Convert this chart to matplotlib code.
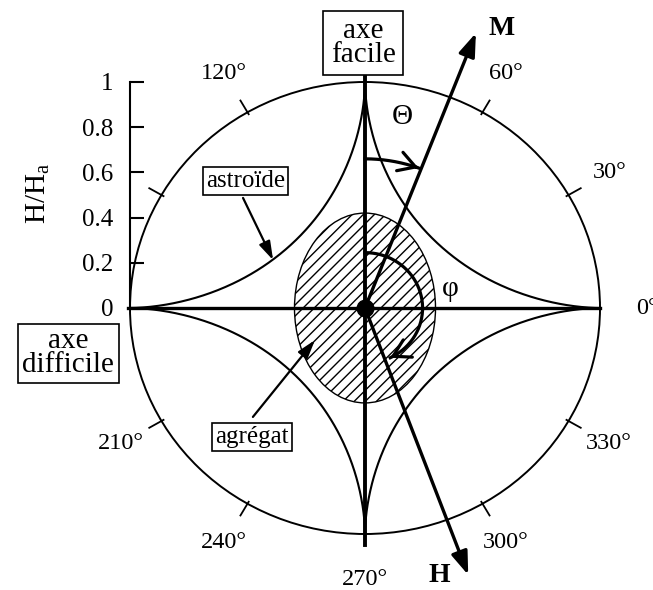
import numpy as np
import matplotlib
matplotlib.use('Agg')
import matplotlib.pyplot as plt
from matplotlib.patches import Ellipse

plt.rcParams['font.family'] = ['Liberation Serif', 'DejaVu Serif']
plt.rcParams['mathtext.fontset'] = 'custom'
plt.rcParams['mathtext.rm'] = 'Liberation Serif'
plt.rcParams['mathtext.it'] = 'Liberation Serif:italic'

# values
angle_label_deg = [0, 30, 60, 120, 210, 240, 270, 300, 330]
angle_labels = ['0°', '30°', '60°', '120°', '210°', '240°', '270°', '300°', '330°']
angle_tick_deg = [30, 60, 120, 150, 210, 240, 300, 330]
ha_ticks = [0, 0.2, 0.4, 0.6, 0.8, 1]
ha_labels = ['0', '0.2', '0.4', '0.6', '0.8', '1']
m_angle, m_len = 68.8, 1.305     # direction of M
h_angle, h_len = -69.6, 1.26     # direction of H
theta_r = 0.66                    # radius of the Theta arc
phi_r = 0.245                     # radius of the phi arc
phi_end = -64.0
agg_w, agg_h = 0.30, 0.42         # semi axes of the aggregate
astro_exp = 3.5                   # shape exponent of the drawn astroid

fig = plt.figure(figsize=(6.53, 5.90), dpi=100)
ax = fig.add_axes([0, 0, 1, 1])
# centre of the diagram at pixel (365, 308), 235 px per unit in x, 226 in y
ax.set_xlim(-365 / 235, (653 - 365) / 235)
ax.set_ylim(-(590 - 308) / 226, 308 / 226)
ax.axis('off')

# hatched aggregate
agg = Ellipse((0, 0), 2 * agg_w, 2 * agg_h, facecolor='white', edgecolor='black',
              hatch='///', lw=1.0, zorder=1)
ax.add_patch(agg)

# outer circle
ax.add_patch(Ellipse((0, 0), 2, 2, fill=False, edgecolor='black', lw=1.4, zorder=2))

# astroid
t = np.linspace(0, 2 * np.pi, 1200)
c, s = np.cos(t), np.sin(t)
ax.plot(np.sign(c) * np.abs(c) ** astro_exp, np.sign(s) * np.abs(s) ** astro_exp,
        color='black', lw=1.5, zorder=2)

# easy and hard axes
ax.plot([-1.01, 1.0], [0, 0], color='black', lw=2.4, zorder=3)
ax.plot([0, 0], [1.035, -1.05], color='black', lw=2.8, zorder=3)

# angle ticks and labels on the circle
for a in angle_tick_deg:
    r = np.radians(a)
    ax.plot([0.99 * np.cos(r), 1.06 * np.cos(r)], [0.99 * np.sin(r), 1.06 * np.sin(r)],
            color='black', lw=1.3, zorder=2)
for a, lab in zip(angle_label_deg, angle_labels):
    r = np.radians(a)
    ax.text(1.2 * np.cos(r), 1.2 * np.sin(r), lab, fontsize=17.5,
            ha='center', va='center')

# M and H arrows
arrow_kw = dict(arrowstyle='-|>,head_length=0.7,head_width=0.25', lw=2.4,
                color='black', mutation_scale=20, shrinkA=0, shrinkB=0)
for ang, ln in [(m_angle, m_len), (h_angle, h_len)]:
    r = np.radians(ang)
    ax.annotate('', xy=(ln * np.cos(r), ln * np.sin(r)), xytext=(0, 0),
                arrowprops=arrow_kw, zorder=4)
ax.text(0.579, 1.235, 'M', fontsize=20, fontweight='bold', ha='center', va='center')
ax.text(0.315, -1.185, 'H', fontsize=20, fontweight='bold', ha='center', va='center')

# centre dot
ax.plot([0], [0], 'o', color='black', markersize=12, zorder=5)

# Theta and phi arcs
arc_kw = dict(arrowstyle='->,head_length=0.6,head_width=0.35', lw=2.3,
              color='black', mutation_scale=20, shrinkA=0, shrinkB=0)
for r0, a_end in [(theta_r, m_angle + 1), (phi_r, phi_end)]:
    ts = np.radians(np.linspace(90, a_end, 200))
    ax.plot(r0 * np.cos(ts), r0 * np.sin(ts), color='black', lw=2.3, zorder=4)
    ax.annotate('', xy=(r0 * np.cos(ts[-1]), r0 * np.sin(ts[-1])),
                xytext=(r0 * np.cos(ts[-8]), r0 * np.sin(ts[-8])),
                arrowprops=arc_kw, zorder=4)
ax.text(0.157, 0.845, 'Θ', fontsize=21, ha='center', va='center')
ax.text(0.362, 0.084, 'φ', fontsize=21, ha='center', va='center')

# boxed labels
box = dict(boxstyle='square,pad=0.2', facecolor='white', edgecolor='black', lw=1.2)
ax.text(-0.0085, 1.173, 'axe\nfacile', fontsize=21, ha='center', va='center',
        linespacing=0.9, bbox=dict(box, boxstyle='square,pad=0.25'), zorder=6)
ax.text(-1.262, -0.201, 'axe\ndifficile', fontsize=21, ha='center', va='center',
        linespacing=0.9, bbox=dict(box, boxstyle='square,pad=0.15'), zorder=6)
ax.text(-0.5085, 0.564, 'astroïde', fontsize=18, ha='center', va='center',
        bbox=dict(box, boxstyle='square,pad=0.12'), zorder=6)
ax.text(-0.481, -0.573, 'agrégat', fontsize=18, ha='center', va='center',
        bbox=dict(box, boxstyle='square,pad=0.12'), zorder=6)

pointer = dict(arrowstyle='-|>,head_length=0.8,head_width=0.25', lw=1.6,
               color='black', mutation_scale=14, shrinkA=0, shrinkB=0)
ax.annotate('', xy=(-0.391, 0.212), xytext=(-0.519, 0.487), arrowprops=pointer, zorder=6)
ax.annotate('', xy=(-0.213, -0.142), xytext=(-0.477, -0.482), arrowprops=pointer, zorder=6)

# H/Ha scale
ax2 = fig.add_axes([130 / 653, (590 - 308) / 590, 20 / 653, 226 / 590])
ax2.patch.set_visible(False)
for side in ['top', 'right', 'bottom']:
    ax2.spines[side].set_visible(False)
ax2.spines['left'].set_linewidth(1.5)
ax2.set_ylim(0, 1)
ax2.set_xticks([])
ax2.set_yticks(ha_ticks)
ax2.set_yticklabels(ha_labels, fontsize=18)
ax2.tick_params(axis='y', direction='in', length=10, width=1.5, pad=12)
ax.text(-1.39, 0.509, 'H/H$_{\\mathrm{a}}$', fontsize=21, rotation=90,
        ha='center', va='center')

fig.savefig('out.png', dpi=100)
